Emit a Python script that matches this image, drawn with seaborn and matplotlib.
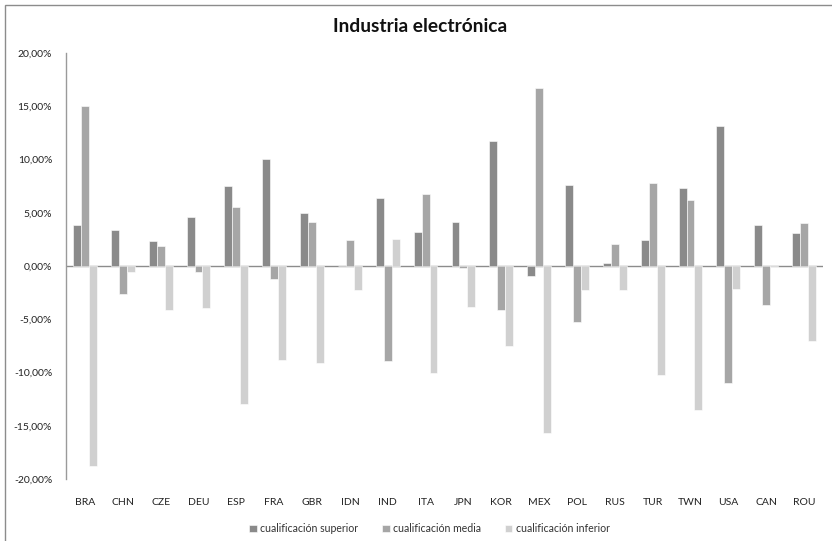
import pandas as pd
import seaborn as sns
import matplotlib.pyplot as plt
from matplotlib.patches import Rectangle
from matplotlib.ticker import FuncFormatter

countries = ['BRA', 'CHN', 'CZE', 'DEU', 'ESP', 'FRA', 'GBR', 'IDN', 'IND', 'ITA',
             'JPN', 'KOR', 'MEX', 'POL', 'RUS', 'TUR', 'TWN', 'USA', 'CAN', 'ROU']
superior = [3.85, 3.4, 2.35, 4.57, 7.5, 10.05, 4.95, 0.0, 6.38, 3.19,
            4.1, 11.74, -0.94, 7.57, 0.25, 2.41, 7.35, 13.18, 3.85, 3.13]
media = [15.0, -2.66, 1.88, -0.53, 5.54, -1.25, 4.16, 2.41, -8.89, 6.8,
         -0.2, -4.13, 16.68, -5.29, 2.1, 7.83, 6.16, -10.96, -3.63, 4.0]
inferior = [-18.8, -0.6, -4.13, -3.97, -13.0, -8.83, -9.08, -2.29, 2.57, -10.0,
            -3.82, -7.54, -15.68, -2.22, -2.29, -10.2, -13.5, -2.13, -0.05, -7.01]
series_names = ['cualificación superior', 'cualificación media', 'cualificación inferior']

df = pd.DataFrame({'pais': countries, series_names[0]: superior,
                   series_names[1]: media, series_names[2]: inferior})
long_df = df.melt(id_vars='pais', var_name='serie', value_name='valor')

sns.set_style('white')
plt.rcParams['font.family'] = ['Lato', 'DejaVu Sans']

fig = plt.figure(figsize=(8.32, 5.41), dpi=100)
ax = fig.add_axes([66 / 832, 1 - 479 / 541, (823 - 66) / 832, (479 - 53) / 541])

palette = ['#8a8a8a', '#a6a6a6', '#d0d0d0']
sns.barplot(data=long_df, x='pais', y='valor', hue='serie', palette=palette,
            width=0.63, edgecolor='white', linewidth=0.4, ax=ax)

ax.set_ylim(-20, 20)
ax.set_yticks(range(-20, 21, 5))
ax.yaxis.set_major_formatter(FuncFormatter(lambda v, p: f'{v:.2f}%'.replace('.', ',')))
ax.set_xlim(-0.5, len(countries) - 0.5)
ax.axhline(0, color='#8c8c8c', linewidth=1, zorder=0.5)
ax.set_xlabel('')
ax.set_ylabel('')
for s in ['top', 'right', 'bottom']:
    ax.spines[s].set_visible(False)
ax.spines['left'].set_color('#9a9a9a')
ax.spines['left'].set_linewidth(1)
ax.tick_params(axis='both', length=0, labelsize=7.5, colors='#222222')
ax.tick_params(axis='x', pad=14)
ax.tick_params(axis='y', pad=10)

ax.legend(loc='upper center', bbox_to_anchor=(0.48, -0.082), ncol=3, frameon=False,
          fontsize=7.6, handlelength=0.7, handleheight=0.7, handletextpad=0.3,
          columnspacing=2.3, labelcolor='#333333')

fig.text(420 / 832, 1 - 27 / 541, 'Industria electrónica', ha='center', va='center',
         fontsize=13.8, fontweight='bold', color='#111111')

fig.patches.append(Rectangle((5 / 832, -0.05), 1.1, 1 - 5 / 541 + 0.05, transform=fig.transFigure,
                             fill=False, edgecolor='#8c8c8c', linewidth=1))

fig.savefig('out.png', dpi=100)
